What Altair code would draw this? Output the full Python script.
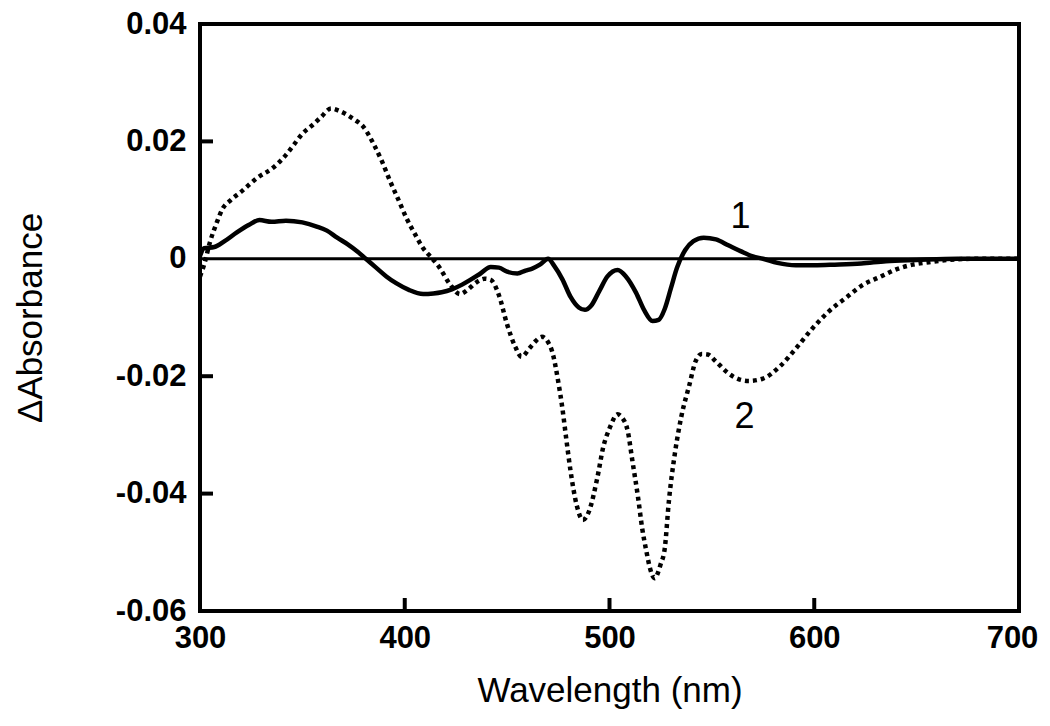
import altair as alt
import pandas as pd

# Curve 1 (solid)
wl1 = [300, 302, 307, 312, 318, 324, 329, 335, 342, 350, 357, 362, 367, 372, 377, 381,
       386, 391, 396, 402, 409, 414, 418, 423, 428, 432, 437, 442, 446, 450, 455, 459,
       462, 466, 470, 473, 477, 481, 485, 488, 491, 495, 499, 504, 508, 513, 517, 521,
       524, 527, 530, 533, 537, 541, 546, 552, 558, 564, 570, 575, 582, 591, 600, 610,
       623, 635, 650, 670, 700]
abs1 = [0.0005, 0.0018, 0.002, 0.003, 0.0045, 0.0058, 0.0066, 0.0063, 0.0065, 0.0062,
        0.0055, 0.0048, 0.0036, 0.0025, 0.0012, 0.0, -0.0015, -0.003, -0.0042, -0.0053,
        -0.006, -0.0059, -0.0057, -0.0052, -0.0044, -0.0036, -0.0025, -0.0014, -0.0015,
        -0.0022, -0.0025, -0.002, -0.0017, -0.001, 0.0, -0.0012, -0.0035, -0.0065,
        -0.0083, -0.0087, -0.008, -0.0055, -0.003, -0.0019, -0.003, -0.0058, -0.0088,
        -0.0106, -0.0104, -0.0085, -0.005, -0.0015, 0.0015, 0.003, 0.0036, 0.0033,
        0.0023, 0.0013, 0.0004, 0.0, -0.0007, -0.0011, -0.0011, -0.001, -0.0008,
        -0.0004, -0.0002, 0.0, 0.0]

# Curve 2 (dotted)
wl2 = [300, 302, 305, 308, 311, 315, 320, 328, 336, 342, 346, 350, 355, 359, 364, 368,
       375, 380, 385, 389, 393, 397, 401, 405, 409, 413, 417, 422, 427, 431, 435, 439,
       442, 446, 450, 454, 457, 461, 464, 467, 470, 472, 475, 477, 479, 481, 484, 487,
       490, 494, 497, 500, 504, 506, 509, 511, 514, 516, 518, 520, 522, 525, 527, 529,
       532, 535, 539, 542, 545, 548, 552, 558, 563, 568, 575, 583, 591, 599, 607, 616,
       623, 632, 640, 648, 656, 665, 680, 700]
abs2 = [-0.003, -0.001, 0.003, 0.006, 0.0085, 0.010, 0.0114, 0.0138, 0.0156, 0.0177,
        0.0195, 0.0213, 0.0228, 0.0241, 0.0256, 0.0252, 0.0238, 0.0224, 0.0194, 0.0165,
        0.0131, 0.010, 0.0068, 0.0042, 0.0018, 0.0002, -0.0015, -0.0043, -0.006,
        -0.0052, -0.004, -0.0034, -0.0036, -0.0062, -0.0112, -0.015, -0.0167, -0.0152,
        -0.014, -0.0133, -0.0142, -0.0158, -0.021, -0.0255, -0.031, -0.0362, -0.042,
        -0.0445, -0.043, -0.0374, -0.032, -0.0289, -0.0265, -0.027, -0.0295, -0.034,
        -0.0408, -0.046, -0.0498, -0.053, -0.0544, -0.052, -0.0493, -0.0413, -0.033,
        -0.027, -0.0215, -0.0175, -0.0162, -0.0163, -0.0175, -0.0195, -0.0205, -0.0208,
        -0.0204, -0.0184, -0.0153, -0.0119, -0.009, -0.0065, -0.0046, -0.0031, -0.0018,
        -0.001, -0.0006, -0.0002, 0.0, 0.0]

x_ticks = [300, 400, 500, 600, 700]
y_ticks = [-0.06, -0.04, -0.02, 0, 0.02, 0.04]
x_inner_ticks = [400, 500, 600]
y_inner_ticks = [-0.04, -0.02, 0.02]

lab_x = [564, 566]
lab_y = [0.0071, -0.027]
lab_text = ["1", "2"]

W, H = 819, 587
FONT = "Liberation Sans"

df1 = pd.DataFrame({"nm": wl1, "val": abs1})
df2 = pd.DataFrame({"nm": wl2, "val": abs2})

xscale = alt.Scale(domain=[300, 700], nice=False, zero=False)
yscale = alt.Scale(domain=[-0.06, 0.04], nice=False, zero=False)

X = alt.X("nm:Q", scale=xscale, axis=alt.Axis(
    values=x_ticks, format="d", labelFont=FONT, labelFontWeight="bold",
    labelFontSize=31, labelPadding=12, labelColor="black", labelFlush=False,
    labelOverlap=False, tickSize=0, domain=False, grid=False,
    labelOffset={"condition": {"test": "datum.value == 700", "value": -7}, "value": 0},
    title="Wavelength (nm)", titleFont=FONT,
    titleFontSize=35, titleFontWeight="normal", titleColor="black",
    titleY=79, titleBaseline="middle"))
Y = alt.Y("val:Q", scale=yscale, axis=alt.Axis(
    values=y_ticks,
    labelExpr="abs(datum.value) < 1e-9 ? '0' : (datum.value < 0 ? '-' + format(abs(datum.value), '.2f') : format(datum.value, '.2f'))",
    labelFont=FONT, labelFontWeight="bold", labelFontSize=31, labelPadding=14,
    labelColor="black", labelFlush=False, labelOverlap=False, tickSize=0,
    domain=False, grid=False,
    title="ΔAbsorbance", titleFont=FONT, titleFontSize=35, titleFontWeight="normal",
    titleColor="black", titleAngle=-90, titleX=-170, titleY=H / 2,
    titleAlign="center", titleBaseline="middle"))

zero_line = alt.Chart(pd.DataFrame({"val": [0.0]})).mark_rule(
    color="black", strokeWidth=3).encode(y=Y)

line1 = alt.Chart(df1).mark_line(
    color="black", strokeWidth=4.5, interpolate="monotone").encode(x=X, y=Y)
line2 = alt.Chart(df2).mark_line(
    color="black", strokeWidth=4.5, strokeDash=[4, 4], interpolate="monotone").encode(x=X, y=Y)

xt = alt.Chart(pd.DataFrame({"nm": x_inner_ticks})).mark_rule(
    color="black", strokeWidth=4).encode(x=X, y=alt.value(H), y2=alt.value(H - 13))
yt = alt.Chart(pd.DataFrame({"val": y_inner_ticks})).mark_rule(
    color="black", strokeWidth=4).encode(y=Y, x=alt.value(0), x2=alt.value(13))

chart_labels = alt.Chart(pd.DataFrame({"nm": lab_x, "val": lab_y, "t": lab_text})).mark_text(
    font=FONT, fontSize=36, color="black", align="center", baseline="middle").encode(
    x=X, y=Y, text="t:N")

chart = alt.layer(zero_line, line2, line1, xt, yt, chart_labels).properties(
    width=W, height=H,
    background="white",
    autosize=alt.AutoSizeParams(type="none"),
    padding={"left": 192, "top": 16, "right": 23, "bottom": 100},
).configure_view(stroke="black", strokeWidth=4)

chart.save("out.html", embed_options={"renderer": "svg", "actions": False})
